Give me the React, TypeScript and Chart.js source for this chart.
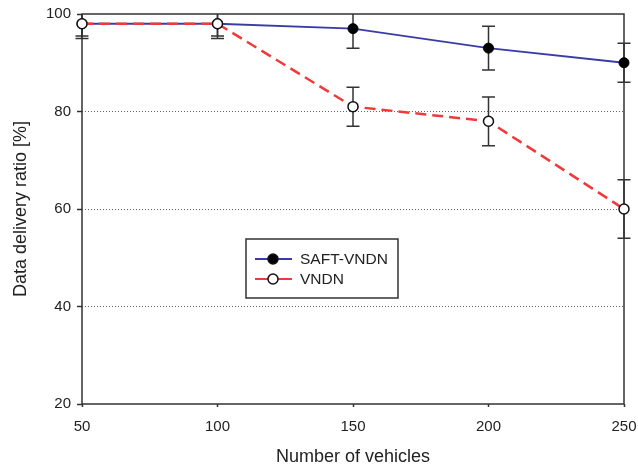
import React, { useEffect, useRef } from "react";
import { Chart, registerables } from "chart.js";

Chart.register(...registerables);

const vehicles = [50, 100, 150, 200, 250];
const saftValues = [98, 98, 97, 93, 90];
const saftLow = [95.5, 95.5, 93, 88.5, 86];
const saftHigh = [100.5, 100.5, 101, 97.5, 94];
const vndnValues = [98, 98, 81, 78, 60];
const vndnLow = [95, 95, 77, 73, 54];
const vndnHigh = [101, 101, 85, 83, 66];
const yTicks = [20, 40, 60, 80, 100];
const seriesNames = ["SAFT-VNDN", "VNDN"];

const FONT = "'Liberation Sans', Arial, Helvetica, sans-serif";
const BLUE = "#3a3ca6";
const RED = "#f03a3a";

export default function App() {
  const ref = useRef<HTMLCanvasElement | null>(null);

  useEffect(() => {
    if (!ref.current) return;

    const errorBars = {
      id: "errorBars",
      beforeDatasetsDraw(chart: any) {
        const { ctx, chartArea, scales } = chart;
        const xs = scales.x;
        const ys = scales.y;
        ctx.save();
        ctx.strokeStyle = "#333";
        ctx.lineWidth = 1.5;
        ctx.strokeRect(chartArea.left, chartArea.top, chartArea.right - chartArea.left, chartArea.bottom - chartArea.top);
        ctx.restore();

        ctx.save();
        ctx.beginPath();
        ctx.rect(chartArea.left - 10, chartArea.top, chartArea.right - chartArea.left + 20, chartArea.bottom - chartArea.top);
        ctx.clip();
        ctx.strokeStyle = "#333";
        ctx.lineWidth = 1.5;
        const sets = [
          [saftLow, saftHigh],
          [vndnLow, vndnHigh],
        ];
        sets.forEach(([lo, hi]) => {
          vehicles.forEach((v, i) => {
            const x = xs.getPixelForValue(v);
            const y1 = ys.getPixelForValue(lo[i]);
            const y2 = ys.getPixelForValue(hi[i]);
            ctx.beginPath();
            ctx.moveTo(x, y1);
            ctx.lineTo(x, y2);
            ctx.moveTo(x - 6.5, y1);
            ctx.lineTo(x + 6.5, y1);
            ctx.moveTo(x - 6.5, y2);
            ctx.lineTo(x + 6.5, y2);
            ctx.stroke();
          });
        });
        ctx.restore();
      },
      afterDraw(chart: any) {
        const { ctx } = chart;
        ctx.save();
        const bx = 246, by = 239, bw = 152, bh = 59;
        ctx.fillStyle = "#fff";
        ctx.fillRect(bx, by, bw, bh);
        ctx.strokeStyle = "#333";
        ctx.lineWidth = 1.5;
        ctx.strokeRect(bx, by, bw, bh);
        const rows = [
          { y: 259, color: BLUE, fill: "#000" },
          { y: 279, color: RED, fill: "#fff" },
        ];
        rows.forEach((r, i) => {
          ctx.strokeStyle = r.color;
          ctx.lineWidth = 2;
          ctx.beginPath();
          ctx.moveTo(255, r.y);
          ctx.lineTo(292, r.y);
          ctx.stroke();
          ctx.beginPath();
          ctx.arc(273, r.y, 5, 0, Math.PI * 2);
          ctx.fillStyle = r.fill;
          ctx.fill();
          ctx.strokeStyle = "#111";
          ctx.lineWidth = 1.5;
          ctx.stroke();
          ctx.fillStyle = "#222";
          ctx.font = `15.5px ${FONT}`;
          ctx.textBaseline = "middle";
          ctx.textAlign = "left";
          ctx.fillText(seriesNames[i], 300, r.y + 1);
        });
        ctx.restore();
      },
    };

    const chart = new Chart(ref.current, {
      type: "line",
      data: {
        datasets: [
          {
            label: seriesNames[0],
            data: vehicles.map((v, i) => ({ x: v, y: saftValues[i] })),
            borderColor: BLUE,
            borderWidth: 2,
            pointRadius: 5,
            pointBackgroundColor: "#000",
            pointBorderColor: "#000",
            pointBorderWidth: 1,
            clip: false,
            order: 1,
          },
          {
            label: seriesNames[1],
            data: vehicles.map((v, i) => ({ x: v, y: vndnValues[i] })),
            borderColor: RED,
            borderWidth: 2.5,
            borderDash: [11, 6],
            pointRadius: 5,
            pointBackgroundColor: "#fff",
            pointBorderColor: "#111",
            pointBorderWidth: 1.5,
            clip: false,
            order: 0,
          },
        ],
      },
      options: {
        responsive: false,
        animation: false,
        devicePixelRatio: 1,
        layout: { padding: { top: 14, right: 14, left: 0, bottom: 0 } },
        plugins: {
          legend: { display: false },
          tooltip: { enabled: false },
        },
        scales: {
          x: {
            type: "linear",
            min: 50,
            max: 250,
            afterFit: (s: any) => {
              s.height = 64;
              s.paddingLeft = 0;
              s.paddingRight = 0;
            },
            ticks: {
              stepSize: 50,
              color: "#222",
              font: { family: FONT, size: 15 },
              padding: 11,
              maxRotation: 0,
            },
            grid: {
              drawOnChartArea: false,
              drawTicks: true,
              tickLength: 3,
              tickColor: "#333",
              tickWidth: 1.5,
            },
            border: { display: false },
            title: {
              display: true,
              text: "Number of vehicles",
              color: "#222",
              font: { family: FONT, size: 18 },
              padding: { top: 0, bottom: 0 },
            },
          },
          y: {
            min: 20,
            max: 100,
            afterFit: (s: any) => {
              s.width = 82;
              s.paddingTop = 0;
              s.paddingBottom = 0;
            },
            afterBuildTicks: (s: any) => {
              s.ticks = yTicks.map((v) => ({ value: v }));
            },
            ticks: {
              color: "#222",
              font: { family: FONT, size: 15 },
              padding: 6,
            },
            grid: {
              color: (c: any) =>
                c.tick && (c.tick.value === 20 || c.tick.value === 100) ? "rgba(0,0,0,0)" : "#666",
              lineWidth: 1,
              tickLength: 5,
              tickColor: "#333",
              tickWidth: 1.5,
              tickBorderDash: [],
            },
            border: { display: false, dash: [1, 2] },
            title: {
              display: true,
              text: "Data delivery ratio [%]",
              color: "#222",
              font: { family: FONT, size: 18 },
              padding: { top: 10, bottom: 0 },
            },
          },
        },
      },
      plugins: [errorBars],
    } as any);

    return () => chart.destroy();
  }, []);

  return (
    <div style={{ position: "absolute", left: 0, top: 0, width: 638, height: 468, background: "#fff" }}>
      <canvas ref={ref} width={638} height={468} style={{ width: 638, height: 468, display: "block" }} />
    </div>
  );
}
